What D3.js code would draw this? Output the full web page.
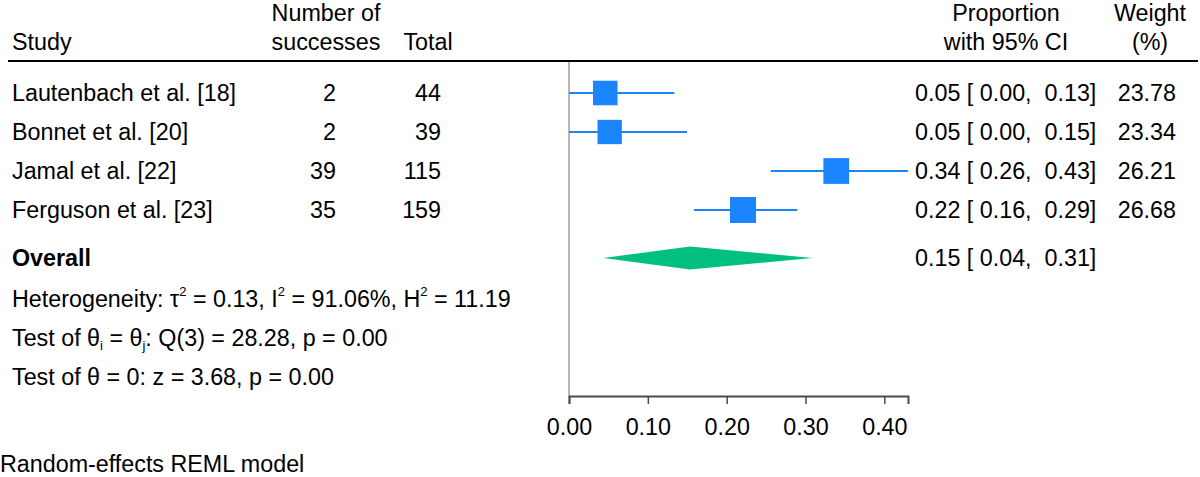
<!DOCTYPE html>
<html>
<head>
<meta charset="utf-8">
<script src="https://cdn.jsdelivr.net/npm/d3@7"></script>
<style>
    body { margin: 0; background: #fff; }
    svg text { font-family: "Liberation Sans", Arial, sans-serif; font-size: 23.3px; fill: #000; white-space: pre; }
</style>
</head>
<body>
<script>
(function () {

    //study data
    var studies = ["Lautenbach et al. [18]", "Bonnet et al. [20]", "Jamal et al. [22]", "Ferguson et al. [23]"];
    var successes = [2, 2, 39, 35];
    var totals = [44, 39, 115, 159];
    var props = [0.046, 0.0516, 0.339, 0.2207];
    var lower = [0, 0, 0.256, 0.1585];
    var upper = [0.1336, 0.1497, 0.430, 0.2896];
    var weights = [23.78, 23.34, 26.21, 26.68];

    //overall estimate: [estimate, lower, upper]
    var overall = [0.1535, 0.0435, 0.309];

    var xTicks = [0, 0.1, 0.2, 0.3, 0.4];
    var statLines = [
        [["Heterogeneity: τ", ""], ["2", "sup"], [" = 0.13, I", ""], ["2", "sup"], [" = 91.06%, H", ""], ["2", "sup"], [" = 11.19", ""]],
        [["Test of θ", ""], ["i", "sub"], [" = θ", ""], ["j", "sub"], [": Q(3) = 28.28, p = 0.00", ""]],
        [["Test of θ = 0: z = 3.68, p = 0.00", ""]]
    ];
    var footer = "Random-effects REML model";

    var width = 1200,
        height = 477;

    var svg = d3.select("body")
        .append("svg")
        .attr("width", width)
        .attr("height", height);

    //x scale for the proportion axis
    var x = d3.scaleLinear()
        .domain([0, 0.43])
        .range([569, 908]);

    //row positions
    var rowY = d3.scaleLinear()
        .domain([0, 1])
        .range([93, 132]);
    var overallY = 258,
        axisY = 396,
        headerLineY = 61;

    //square size from weight
    var size = d3.scaleSqrt()
        .domain([0, d3.max(weights)])
        .range([0, 26]);

    var f2 = d3.format(".2f");

    //column headers
    var headers = [
        { x: 12, anchor: "start", lines: ["", "Study"] },
        { x: 326, anchor: "middle", lines: ["Number of", "successes"] },
        { x: 428, anchor: "middle", lines: ["", "Total"] },
        { x: 1006, anchor: "middle", lines: ["Proportion", "with 95% CI"] },
        { x: 1150, anchor: "middle", lines: ["Weight", "(%)"] }
    ];
    headers.forEach(function (h) {
        h.lines.forEach(function (l, i) {
            svg.append("text")
                .attr("x", h.x)
                .attr("y", 13 + i * 29)
                .attr("dy", "0.35em")
                .attr("text-anchor", h.anchor)
                .text(l);
        });
    });

    svg.append("line")
        .attr("x1", 8)
        .attr("x2", 1198)
        .attr("y1", headerLineY)
        .attr("y2", headerLineY)
        .attr("stroke", "#000")
        .attr("stroke-width", 2);

    //reference line at zero
    svg.append("line")
        .attr("x1", x(0))
        .attr("x2", x(0))
        .attr("y1", headerLineY + 1)
        .attr("y2", axisY)
        .attr("stroke", "#a0a0a0")
        .attr("stroke-width", 1.5);

    //study rows
    var rows = svg.selectAll(".row")
        .data(studies)
        .enter()
        .append("g")
        .attr("class", "row")
        .attr("transform", function (d, i) { return "translate(0," + rowY(i) + ")"; });

    rows.append("text")
        .attr("x", 12)
        .attr("dy", "0.35em")
        .text(function (d) { return d; });

    rows.append("text")
        .attr("x", 336)
        .attr("dy", "0.35em")
        .attr("text-anchor", "end")
        .text(function (d, i) { return successes[i]; });

    rows.append("text")
        .attr("x", 441)
        .attr("dy", "0.35em")
        .attr("text-anchor", "end")
        .text(function (d, i) { return totals[i]; });

    rows.append("line")
        .attr("x1", function (d, i) { return x(lower[i]); })
        .attr("x2", function (d, i) { return x(upper[i]); })
        .attr("stroke", "#1a85ff")
        .attr("stroke-width", 2);

    rows.append("rect")
        .attr("x", function (d, i) { return x(props[i]) - size(weights[i]) / 2; })
        .attr("y", function (d, i) { return -size(weights[i]) / 2; })
        .attr("width", function (d, i) { return size(weights[i]); })
        .attr("height", function (d, i) { return size(weights[i]); })
        .attr("fill", "#1a85ff");

    rows.append("text")
        .attr("x", 915)
        .attr("dy", "0.35em")
        .text(function (d, i) {
            return f2(props[i]) + " [ " + f2(lower[i]) + ",  " + f2(upper[i]) + "]";
        });

    rows.append("text")
        .attr("x", 1176)
        .attr("dy", "0.35em")
        .attr("text-anchor", "end")
        .text(function (d, i) { return f2(weights[i]); });

    //overall row
    svg.append("text")
        .attr("x", 12)
        .attr("y", overallY)
        .attr("dy", "0.35em")
        .style("font-weight", "bold")
        .text("Overall");

    svg.append("path")
        .attr("d", "M" + x(overall[1]) + "," + overallY +
            "L" + x(overall[0]) + "," + (overallY - 11.5) +
            "L" + x(overall[2]) + "," + overallY +
            "L" + x(overall[0]) + "," + (overallY + 11.5) + "Z")
        .attr("fill", "#00bf7f");

    svg.append("text")
        .attr("x", 915)
        .attr("y", overallY)
        .attr("dy", "0.35em")
        .text(f2(overall[0]) + " [ " + f2(overall[1]) + ",  " + f2(overall[2]) + "]");

    //heterogeneity and test lines
    statLines.forEach(function (parts, i) {
        var t = svg.append("text")
            .attr("x", 12)
            .attr("y", 299 + i * 39)
            .attr("dy", "0.35em");
        var shift = 0;
        parts.forEach(function (p) {
            var s = t.append("tspan").text(p[0]);
            if (p[1] == "sup") {
                s.style("font-size", "13px").attr("dy", -11 - shift);
                shift = -11;
            } else if (p[1] == "sub") {
                s.style("font-size", "13px").attr("dy", 4 - shift);
                shift = 4;
            } else if (shift != 0) {
                s.attr("dy", -shift);
                shift = 0;
            }
        });
    });

    //x axis
    var xAxis = d3.axisBottom(x)
        .tickValues(xTicks)
        .tickFormat(f2)
        .tickSizeOuter(0)
        .tickSize(8)
        .tickPadding(14);

    var axis = svg.append("g")
        .attr("transform", "translate(0," + axisY + ")")
        .call(xAxis);

    axis.select(".domain")
        .attr("stroke", "#4a4a4a")
        .attr("stroke-width", 2);
    axis.selectAll(".tick line")
        .attr("stroke", "#4a4a4a")
        .attr("stroke-width", 1.5);
    axis.selectAll(".tick text")
        .attr("fill", "#000")
        .style("font-size", "23.3px")
        .style("font-family", "'Liberation Sans', Arial, sans-serif");

    svg.append("text")
        .attr("x", 0)
        .attr("y", 464)
        .attr("dy", "0.35em")
        .text(footer);

})();
</script>
</body>
</html>
